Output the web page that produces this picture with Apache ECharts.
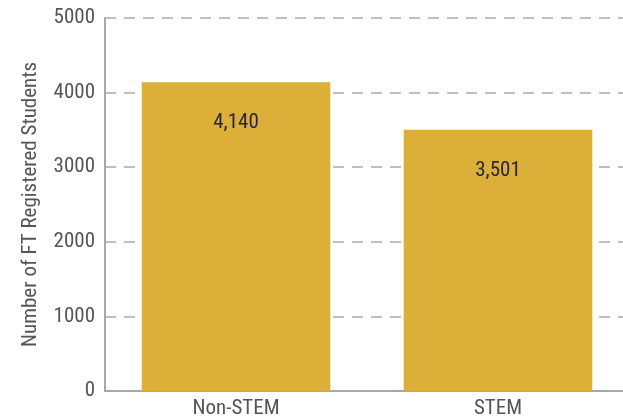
<!DOCTYPE html>
<html>
<head>
<meta charset="utf-8">
<script src="https://cdn.jsdelivr.net/npm/echarts@6/dist/echarts.min.js"></script>
<style>
  html, body { margin: 0; padding: 0; background: #fff; overflow: hidden; }
  #chart { width: 629px; height: 420px; }
</style>
</head>
<body>
<div id="chart"></div>
<script>
// Full-time registered students by programme type
const categories = ['Non-STEM', 'STEM'];
const students = [4140, 3501];
const yTicks = { min: 0, max: 5000, interval: 1000 };

const FONT = '"Roboto Condensed", "Open Sans Condensed", sans-serif';
const chart = echarts.init(document.getElementById('chart'));
chart.setOption({
  animation: false,
  grid: { left: 105, right: 0, top: 18, bottom: 29 },
  xAxis: {
    type: 'category',
    data: categories,
    axisLine: { lineStyle: { color: '#a8a8a8', width: 2 } },
    axisTick: { show: false },
    axisLabel: { color: '#555', fontFamily: FONT, fontSize: 21, margin: 7 }
  },
  yAxis: {
    type: 'value',
    min: yTicks.min,
    max: yTicks.max,
    interval: yTicks.interval,
    name: 'Number of FT Registered Students',
    nameLocation: 'middle',
    nameGap: 64,
    nameTextStyle: { color: '#555', fontFamily: FONT, fontSize: 21 },
    axisLine: { show: true, lineStyle: { color: '#a8a8a8', width: 2 } },
    axisTick: { show: false },
    axisLabel: {
      color: '#555', fontFamily: FONT, fontSize: 21, margin: 10,
      formatter: v => String(v)
    },
    splitLine: { lineStyle: { color: '#aaaaaa', type: [11, 8], width: 1.5 } }
  },
  series: [{
    type: 'bar',
    data: students,
    barWidth: '72%',
    itemStyle: { color: '#dcb038' },
    label: {
      show: true,
      position: 'insideTop',
      distance: 30,
      color: '#2a2445',
      fontFamily: FONT,
      fontSize: 21,
      formatter: p => p.value.toLocaleString('en-US')
    }
  }]
});
</script>
</body>
</html>
